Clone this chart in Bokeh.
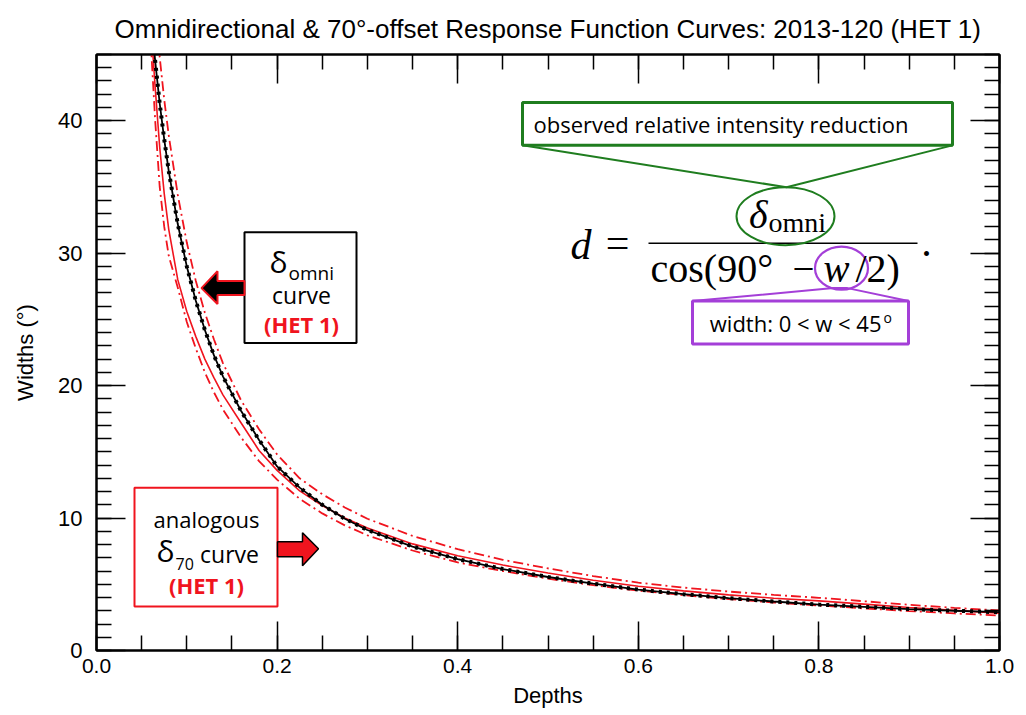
from bokeh.plotting import figure
from bokeh.models import (Range1d, LinearAxis, SingleIntervalTicker, Label,
                          BoxAnnotation, PolyAnnotation, PrintfTickFormatter,
                          CustomJSTickFormatter)
from bokeh.embed import file_html
from bokeh.resources import INLINE

# ---- data -----------------------------------------------------------------
depths = [0.06, 0.065, 0.07, 0.075, 0.08, 0.09, 0.10, 0.11, 0.12, 0.13, 0.14,
          0.16, 0.18, 0.20, 0.225, 0.25, 0.275, 0.30, 0.35, 0.40, 0.45, 0.50,
          0.55, 0.60, 0.65, 0.70, 0.75, 0.80, 0.85, 0.90, 0.95, 1.00]

# omnidirectional response curve (HET 1)
omni_widths = [48.2, 44.5, 41.3, 38.6, 36.2, 32.2, 29.0, 26.4, 24.2, 22.3, 20.7,
               18.1, 15.9, 13.9, 12.3, 11.0, 9.95, 9.1, 7.85, 6.9, 6.15, 5.55,
               5.05, 4.6, 4.25, 3.95, 3.7, 3.47, 3.3, 3.13, 3.0, 2.89]

# 70-degree offset response curve and its bounds
d70_widths = [47.5, 42.5, 38.0, 34.5, 31.8, 28.0, 25.6, 23.7, 22.0, 20.6, 19.3,
              17.2, 15.1, 13.6, 12.05, 10.95, 10.0, 9.25, 8.05, 7.15, 6.45, 5.85,
              5.3, 4.85, 4.5, 4.2, 3.95, 3.75, 3.5, 3.25, 3.03, 2.82]
d70_upper = [52.0, 48.2, 44.8, 41.6, 38.9, 34.4, 30.8, 27.9, 25.5, 23.5, 21.7,
             18.9, 16.7, 14.8, 13.0, 11.8, 10.8, 9.95, 8.65, 7.65, 6.85, 6.2,
             5.62, 5.12, 4.75, 4.45, 4.2, 3.98, 3.72, 3.45, 3.22, 3.02]
d70_lower = [46.0, 40.0, 35.0, 32.0, 29.8, 27.4, 24.8, 22.8, 21.0, 19.5, 18.2,
             16.1, 14.3, 12.9, 11.45, 10.35, 9.45, 8.7, 7.55, 6.65, 6.0, 5.42,
             4.93, 4.52, 4.18, 3.88, 3.62, 3.4, 3.18, 2.98, 2.8, 2.64]

X_MIN, X_MAX = 0.0, 1.0
Y_MIN, Y_MAX = 0.0, 45.0

# ---- layout (pixels) --------------------------------------------------------
W, H = 1026, 715
LEFT, RIGHT, TOP, BOTTOM = 96, 27, 53, 65
FRAME_W = W - LEFT - RIGHT
FRAME_H = H - TOP - BOTTOM


def dx(px):
    """canvas x pixel -> data x"""
    return X_MIN + (px - LEFT) / FRAME_W * (X_MAX - X_MIN)


def dy(py):
    """canvas y pixel -> data y"""
    return Y_MIN + (TOP + FRAME_H - py) / FRAME_H * (Y_MAX - Y_MIN)


RED = "#f0141e"
GREEN = "#1f7d1f"
PURPLE = "#a43fd8"
SANS = "Liberation Sans"
CALLOUT = "Open Sans"
SERIF = "Liberation Serif"

p = figure(width=W, height=H, x_range=Range1d(X_MIN, X_MAX),
           y_range=Range1d(Y_MIN, Y_MAX), output_backend="svg",
           toolbar_location=None, min_border_left=LEFT, min_border_right=RIGHT,
           min_border_top=TOP, min_border_bottom=BOTTOM,
           x_axis_label="Depths", y_axis_label="Widths (°)")
p.background_fill_color = "white"
p.border_fill_color = "white"
p.grid.visible = False
p.outline_line_color = "black"
p.outline_line_width = 2

p.title.text = "Omnidirectional & 70°-offset Response Function Curves: 2013-120 (HET 1)"
p.title.align = "center"
p.title.text_font = SANS
p.title.text_font_size = "26px"
p.title.text_font_style = "normal"
p.title.text_color = "black"
p.title.standoff = 22

x_ticker = SingleIntervalTicker(interval=0.2, num_minor_ticks=4)
y_ticker = SingleIntervalTicker(interval=10, num_minor_ticks=10)


def style_axis(ax, show_labels):
    ax.axis_line_color = "black"
    ax.axis_line_width = 2
    ax.major_tick_in = 29
    ax.major_tick_out = 0
    ax.minor_tick_in = 15
    ax.minor_tick_out = 0
    ax.major_tick_line_color = "black"
    ax.minor_tick_line_color = "black"
    ax.major_tick_line_width = 1.5
    ax.minor_tick_line_width = 1.5
    if show_labels:
        ax.major_label_text_font = SANS
        ax.major_label_text_color = "black"
        ax.axis_label_text_font = SANS
        ax.axis_label_text_font_style = "normal"
        ax.axis_label_text_color = "black"
        ax.axis_label_text_font_size = "22px"
    else:
        # mirrored tick marks only
        ax.formatter = CustomJSTickFormatter(code="return ''")
        ax.major_label_standoff = 0


xa = p.xaxis[0]
xa.ticker = x_ticker
xa.formatter = PrintfTickFormatter(format="%.1f")
style_axis(xa, True)
xa.major_label_text_font_size = "21px"
xa.major_label_standoff = 8
xa.axis_label_standoff = 7

ya = p.yaxis[0]
ya.ticker = y_ticker
ya.formatter = PrintfTickFormatter(format="%d")
style_axis(ya, True)
ya.major_label_text_font_size = "22px"
ya.major_label_standoff = 14
ya.axis_label_standoff = 17

top_ax = LinearAxis(ticker=x_ticker)
style_axis(top_ax, False)
p.add_layout(top_ax, "above")
right_ax = LinearAxis(ticker=y_ticker)
style_axis(right_ax, False)
p.add_layout(right_ax, "right")

# ---- curves -----------------------------------------------------------------
p.line(depths, d70_lower, line_color=RED, line_width=1.8, line_dash="10 4 2 4")
p.line(depths, d70_upper, line_color=RED, line_width=1.8, line_dash="10 4 2 4")
p.line(depths, d70_widths, line_color=RED, line_width=1.6)
p.line(depths, omni_widths, line_color="black", line_width=1.8)
p.line(depths, omni_widths, line_color="black", line_width=4, line_dash="3 5")


# ---- annotation helpers -------------------------------------------------------
def box(l, t, r, b, color, width=2):
    p.add_layout(BoxAnnotation(left=dx(l), right=dx(r), top=dy(t), bottom=dy(b),
                               fill_color="white", fill_alpha=1.0,
                               line_color=color, line_width=width, line_alpha=1.0))


def text(x, y, s, size, color="black", font=CALLOUT, align="center",
         style="normal"):
    p.add_layout(Label(x=dx(x), y=dy(y), text=s, text_font=font,
                       text_font_size=f"{size}px", text_color=color,
                       text_align=align, text_baseline="middle",
                       text_font_style=style))


def poly(pts, fill, edge, width=2):
    p.add_layout(PolyAnnotation(xs=[dx(a) for a, _ in pts], ys=[dy(b) for _, b in pts],
                                fill_color=fill, fill_alpha=1.0, line_color=edge,
                                line_width=width, line_alpha=1.0))


def polyline(pts, color, width=2):
    p.line([dx(a) for a, _ in pts], [dy(b) for _, b in pts],
           line_color=color, line_width=width)


# omni callout box with arrow pointing at the black curve
box(244, 231, 356, 342, "black")
text(287, 260, "δ", 30, align="right")
text(288, 272, "omni", 19, align="left")
text(301, 294, "curve", 23)
text(301, 323, "(HET 1)", 22, color=RED, style="bold")
poly([(244, 280), (217, 280), (217, 270), (201, 287), (217, 303), (217, 294), (244, 294)],
     "black", RED, 2)

# 70-degree callout box with arrow pointing at the red curves
box(134, 487, 277, 606, RED)
text(206, 518, "analogous", 22)
text(174, 550, "δ", 30, align="right")
text(175, 563, "70", 16, align="left")
text(229, 553, "curve", 23)
text(206, 584, "(HET 1)", 22, color=RED, style="bold")
poly([(277, 541), (302, 541), (302, 532), (318, 548), (302, 565), (302, 556), (277, 556)],
     RED, "black", 1.5)

# formula d = delta_omni / cos(90 - w/2)
text(570, 244, "d", 42, font=SERIF, align="left", style="italic")
text(617, 242, "=", 42, font=SERIF)
p.segment(x0=[dx(648)], y0=[dy(242)], x1=[dx(917)], y1=[dy(242)],
          line_color="black", line_width=1.6)
text(767, 213, "δ", 40, font=SERIF, align="right", style="italic")
text(768, 221, "omni", 28, font=SERIF, align="left")
text(650, 267, "cos(90°", 40, font=SERIF, align="left")
text(803, 268, "−", 39, font=SERIF)
text(836, 267, "w", 39, font=SERIF, style="italic")
text(855, 267, "/2)", 40, font=SERIF, align="left")
text(926, 241, ".", 42, font=SERIF)

# green callout: observed relative intensity reduction
polyline([(522, 144), (786, 186), (952, 144)], GREEN, 2)
box(522, 101, 952, 144, GREEN, 3)
text(533, 123, "observed relative intensity reduction", 22, align="left")
p.ellipse(x=[dx(785)], y=[dy(215)], width=98, height=58, width_units="screen",
          height_units="screen", fill_color=None, line_color=GREEN, line_width=2)

# purple callout: width range
polyline([(692, 300), (833, 287), (847, 287), (908, 300)], PURPLE, 2)
box(692, 300, 908, 343, PURPLE, 3)
text(881, 322, "width: 0 < w < 45", 22, align="right")
text(883, 316, "o", 14, align="left")
p.ellipse(x=[dx(841)], y=[dy(267)], width=53, height=43, width_units="screen",
          height_units="screen", fill_color=None, line_color=PURPLE, line_width=2.2)

open("out.html", "w").write(file_html(p, INLINE))
